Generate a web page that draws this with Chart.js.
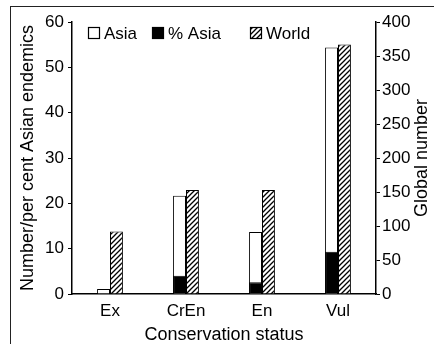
<!DOCTYPE html>
<html>
<head>
<meta charset="utf-8">
<script src="https://cdn.jsdelivr.net/npm/chart.js@4.4.1/dist/chart.umd.min.js"></script>
<style>
    html, body { margin: 0; padding: 0; background: #fff; }
    #wrap { position: relative; width: 434px; height: 347px; }
    #frameLeft { position: absolute; left: 10px; top: 6px; width: 1px; height: 338px; background: #222; }
    #frameTop { position: absolute; left: 10px; top: 6px; width: 424px; height: 1px; background: #222; }
</style>
</head>
<body>
<div id="wrap">
    <canvas id="statusChart" width="434" height="347"></canvas>
    <div id="frameLeft"></div>
    <div id="frameTop"></div>
</div>
<script>
// Values
const categories = ['Ex', 'CrEn', 'En', 'Vul'];
const asiaCounts = [1.1, 21.7, 13.7, 54.4];
const asiaPercent = [0, 4.0, 2.6, 9.3];
const worldCounts = [92, 153, 153, 367];

const FONT = 'Arial, "Liberation Sans", Helvetica, sans-serif';

const canvas = document.getElementById('statusChart');
const ctx = canvas.getContext('2d');

// Diagonal hatch for the World bars
function makeHatch() {
    const c = document.createElement('canvas');
    c.width = 5;
    c.height = 5;
    const g = c.getContext('2d');
    g.fillStyle = '#fff';
    g.fillRect(0, 0, 5, 5);
    g.strokeStyle = '#000';
    g.lineWidth = 1.3;
    g.beginPath();
    g.moveTo(0, 5); g.lineTo(5, 0);
    g.moveTo(-1, 1); g.lineTo(1, -1);
    g.moveTo(4, 6); g.lineTo(6, 4);
    g.stroke();
    return ctx.createPattern(c, 'repeat');
}

// Right axis title reads bottom-to-top like the left one
const rightTitle = {
    id: 'rightTitle',
    afterDraw(chart) {
        const c = chart.ctx;
        const area = chart.chartArea;
        c.save();
        c.translate(422, (area.top + area.bottom) / 2);
        c.rotate(-Math.PI / 2);
        c.font = '18px ' + FONT;
        c.fillStyle = '#000';
        c.textAlign = 'center';
        c.textBaseline = 'middle';
        c.fillText('Global number', 0, 0);
        c.restore();
    },
};

// One-row legend inside the plot, in dataset order
const inlineLegend = {
    id: 'inlineLegend',
    afterDraw(chart) {
        const c = chart.ctx;
        const slots = [88, 152, 250];
        const y = 33;
        c.save();
        c.font = '17px ' + FONT;
        c.textBaseline = 'middle';
        c.textAlign = 'left';
        chart.data.datasets.forEach((ds, i) => {
            const x = slots[i];
            c.fillStyle = ds.backgroundColor;
            c.fillRect(x, y - 6, 12, 12);
            c.strokeStyle = '#000';
            c.lineWidth = 1.2;
            c.strokeRect(x + 0.5, y - 5.5, 11, 11);
            c.fillStyle = '#000';
            c.fillText(ds.label, x + 16, y + 1);
        });
        c.restore();
    },
};

const tickFont = { family: FONT, size: 17 };

new Chart(ctx, {
    type: 'bar',
    data: {
        labels: categories,
        datasets: [
            {
                label: 'Asia',
                data: asiaCounts,
                backgroundColor: '#fff',
                borderColor: '#000',
                borderWidth: 1,
                stack: 'asia',
                order: 1,
                yAxisID: 'y',
            },
            {
                label: '% Asia',
                data: asiaPercent,
                backgroundColor: '#000',
                borderColor: '#000',
                borderWidth: 1,
                stack: 'asia',
                order: 0,
                yAxisID: 'y',
            },
            {
                label: 'World',
                data: worldCounts,
                backgroundColor: makeHatch(),
                borderColor: '#000',
                borderWidth: 1,
                stack: 'world',
                order: 2,
                yAxisID: 'y1',
            },
        ],
    },
    options: {
        responsive: false,
        animation: false,
        categoryPercentage: 0.34,
        barPercentage: 1,
        layout: { padding: { left: 13, right: 0, top: 22, bottom: 0 } },
        plugins: {
            tooltip: { enabled: false },
            legend: { display: false },
        },
        scales: {
            x: {
                stacked: true,
                offset: true,
                grid: { display: false, drawTicks: false, tickLength: 0 },
                border: { color: '#000', width: 1.5 },
                ticks: { color: '#000', font: tickFont, padding: 7 },
                title: {
                    display: true,
                    text: 'Conservation status',
                    color: '#000',
                    font: { family: FONT, size: 18 },
                    padding: { top: 0, bottom: 1 },
                },
                afterFit: (s) => { s.height = 53; },
            },
            y: {
                stacked: false,
                position: 'left',
                min: 0,
                max: 60,
                border: { color: '#000', width: 1.5 },
                grid: { drawOnChartArea: false, tickLength: 4, color: '#000' },
                ticks: { stepSize: 10, color: '#000', font: tickFont, padding: 4 },
                title: {
                    display: true,
                    text: 'Number/per cent Asian endemics',
                    color: '#000',
                    font: { family: FONT, size: 18 },
                    padding: { top: 4, bottom: 2 },
                },
                afterFit: (s) => { s.width = 59; },
            },
            y1: {
                stacked: false,
                position: 'right',
                min: 0,
                max: 400,
                border: { color: '#000', width: 1.5 },
                grid: { drawOnChartArea: false, tickLength: 4, color: '#000' },
                ticks: { stepSize: 50, color: '#000', font: tickFont, padding: 2 },
                afterFit: (s) => { s.width = 58; },
            },
        },
    },
    plugins: [rightTitle, inlineLegend],
});
</script>
</body>
</html>
